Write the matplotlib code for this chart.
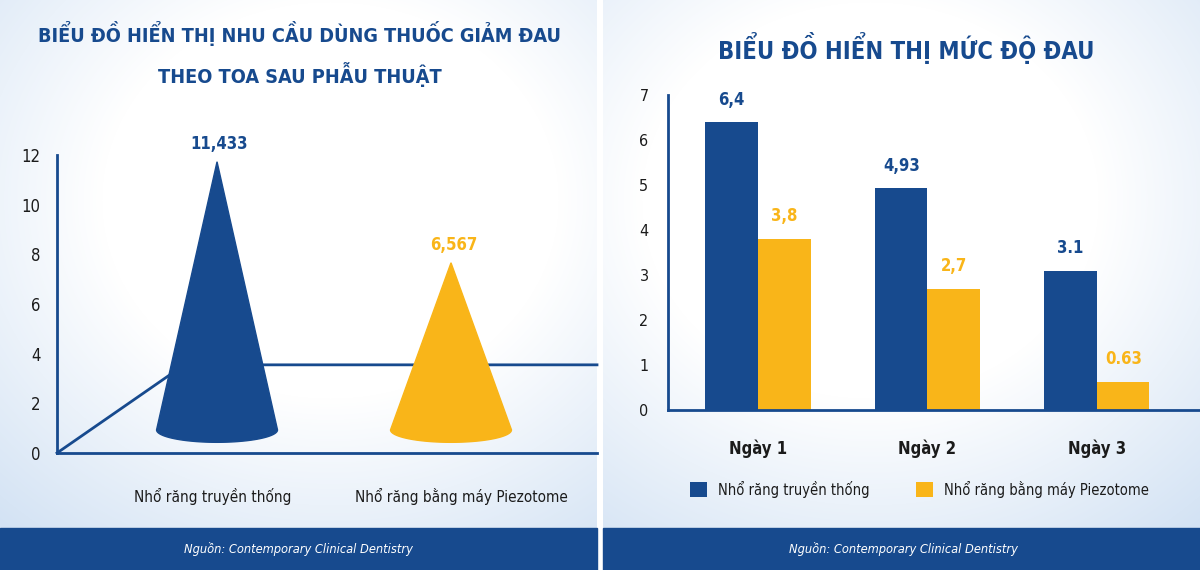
import numpy as np
import matplotlib
matplotlib.use("Agg")
import matplotlib.pyplot as plt
from matplotlib import font_manager as fm
from matplotlib.patches import Polygon, Rectangle

# ---- data ----
cone_labels = ["Nhổ răng truyền thống", "Nhổ răng bằng máy Piezotome"]
cone_values = [11.433, 6.567]
cone_texts = ["11,433", "6,567"]

days = ["Ngày 1", "Ngày 2", "Ngày 3"]
pain_traditional = [6.4, 4.93, 3.1]
pain_piezo = [3.8, 2.7, 0.63]
pain_trad_texts = ["6,4", "4,93", "3.1"]
pain_piezo_texts = ["3,8", "2,7", "0.63"]
series_names = ["Nhổ răng truyền thống", "Nhổ răng bằng máy Piezotome"]

left_title = "BIỂU ĐỒ HIỂN THỊ NHU CẦU DÙNG THUỐC GIẢM ĐAU\nTHEO TOA SAU PHẪU THUẬT"
right_title = "BIỂU ĐỒ HIỂN THỊ MỨC ĐỘ ĐAU"
source = "Nguồn: Contemporary Clinical Dentistry"

BLUE = "#174a8e"
YELLOW = "#f9b519"
DARK = "#1b1b1b"

# prefer a condensed face if one is installed
fonts = fm.fontManager.ttflist
names = {f.name for f in fonts}
if "Liberation Sans Narrow" in names:
    plt.rcParams["font.family"] = ["Liberation Sans Narrow", "DejaVu Sans"]
elif any(f.name == "DejaVu Sans" and "ondensed" in f.fname for f in fonts):
    plt.rcParams["font.family"] = ["DejaVu Sans"]
    plt.rcParams["font.stretch"] = "condensed"
else:
    plt.rcParams["font.family"] = ["Roboto", "DejaVu Sans"]

W, H = 1200, 570
fig = plt.figure(figsize=(12, 5.7), dpi=100)

# background gradient
yy, xx = np.mgrid[0:H, 0:W]
bg = np.ones((H, W, 3))
light = np.array([0.80, 0.87, 0.95])
for cx, cy in [(330, 200), (870, 200)]:
    r = np.sqrt(((xx - cx) / 380.0) ** 2 + ((yy - cy) / 330.0) ** 2)
    t = np.clip((r - 0.6) / 0.7, 0, 1) * 0.85
    mask = (xx < 597) if cx < 600 else (xx >= 603)
    for c in range(3):
        bg[..., c] = np.where(mask, 1 - t * (1 - light[c]), bg[..., c])
bg[:, 597:603, :] = 1.0
bax = fig.add_axes([0, 0, 1, 1])
bax.imshow(bg, extent=[0, W, H, 0], aspect="auto")
bax.set_xlim(0, W)
bax.set_ylim(H, 0)
bax.axis("off")
# footer bars
bax.add_patch(Rectangle((0, 528), 597, 42, color=BLUE))
bax.add_patch(Rectangle((603, 528), 597, 42, color=BLUE))
bax.text(298, 549, source, color="white", style="italic", fontsize=9.2,
         ha="center", va="center")
bax.text(903, 549, source, color="white", style="italic", fontsize=9.2,
         ha="center", va="center")

# titles
fig.text(300 / W, 1 - 34 / H, left_title.split("\n")[0], ha="center", va="center",
         color=BLUE, fontsize=14.2, fontweight="bold")
fig.text(300 / W, 1 - 75 / H, left_title.split("\n")[1], ha="center", va="center",
         color=BLUE, fontsize=14.2, fontweight="bold")
fig.text(906 / W, 1 - 48 / H, right_title, ha="center", va="center", color=BLUE,
         fontsize=17, fontweight="bold")

# ---- left: cone chart ----
axl = fig.add_axes([57 / W, (H - 453) / H, 540 / W, 298 / H])
axl.patch.set_alpha(0)
axl.set_ylim(0, 12)
axl.set_xlim(-0.684, 1.624)
for s in ["top", "right"]:
    axl.spines[s].set_visible(False)
for s in ["left", "bottom"]:
    axl.spines[s].set_color(BLUE)
    axl.spines[s].set_linewidth(2)
axl.set_yticks(range(0, 13, 2))
axl.tick_params(axis="y", length=0, pad=12, labelsize=12, labelcolor=DARK)
axl.set_xticks([-0.017, 1.043], cone_labels)
axl.tick_params(axis="x", length=0, pad=25, labelsize=11, labelcolor=DARK)

# perspective floor line
floor_y = 3.55
axl.plot([-0.684, -0.14, 1.624], [0, floor_y, floor_y], color=BLUE, lw=2,
         clip_on=False, zorder=1)

base_y, half_w, ell_h = 0.93, 0.2585, 0.5
cone_colors = [BLUE, YELLOW]
for i, (v, col, txt) in enumerate(zip(cone_values, cone_colors, cone_texts)):
    apex = 2.17 + 0.836 * v
    th = np.linspace(np.pi, 2 * np.pi, 60)
    ex = i + half_w * np.cos(th)
    ey = base_y + ell_h * np.sin(th)
    pts = [(i, apex)] + list(zip(ex, ey))
    axl.add_patch(Polygon(pts, closed=True, color=col, zorder=3))
    axl.text(i + 0.01, apex + 0.35, txt, ha="center", va="bottom", color=col,
             fontsize=12, fontweight="bold")

# ---- right: grouped bars ----
axr = fig.add_axes([668 / W, (H - 410) / H, 532 / W, 315 / H])
axr.patch.set_alpha(0)
axr.set_ylim(0, 7)
axr.set_xlim(-0.531, 2.608)
for s in ["top", "right"]:
    axr.spines[s].set_visible(False)
for s in ["left", "bottom"]:
    axr.spines[s].set_color(BLUE)
    axr.spines[s].set_linewidth(2)
x = np.arange(len(days))
bw = 0.31
b1 = axr.bar(x - bw / 2, pain_traditional, bw, color=BLUE, label=series_names[0])
b2 = axr.bar(x + bw / 2, pain_piezo, bw, color=YELLOW, label=series_names[1])
for bars, texts, col in [(b1, pain_trad_texts, BLUE), (b2, pain_piezo_texts, YELLOW)]:
    for b, t in zip(bars, texts):
        axr.text(b.get_x() + b.get_width() / 2, b.get_height() + 0.3, t,
                 ha="center", va="bottom", color=col, fontsize=12, fontweight="bold")
axr.set_yticks(range(0, 8))
axr.tick_params(axis="y", length=0, pad=14, labelsize=11.5, labelcolor=DARK)
axr.set_xticks(x, days)
axr.tick_params(axis="x", length=0, pad=21, labelsize=12, labelcolor=DARK)
for lab in axr.get_xticklabels():
    lab.set_fontweight("bold")

fig.legend(handles=[b1, b2], loc="center left",
           bbox_to_anchor=(677 / W, 1 - 489 / H), ncol=2, frameon=False,
           fontsize=10.5, handlelength=1.15, handleheight=1.15, columnspacing=3.2,
           handletextpad=0.75, labelcolor=DARK)

fig.savefig("out.png", dpi=100)
